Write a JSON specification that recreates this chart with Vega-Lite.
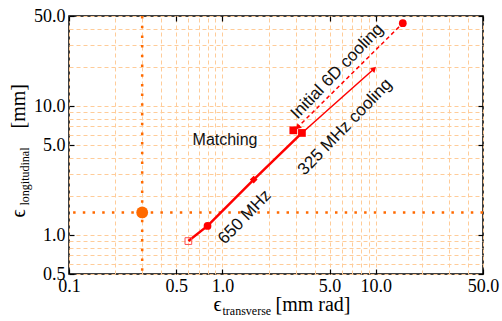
{
  "$schema": "https://vega.github.io/schema/vega-lite/v6.json",
  "autosize": "none",
  "width": 414,
  "height": 258,
  "padding": {"left": 69, "top": 16, "right": 19, "bottom": 47},
  "background": "white",
  "config": {
    "view": {"stroke": "black", "strokeWidth": 1.5},
    "axis": {"labelFont": "Liberation Serif", "titleFont": "Liberation Serif", "labelColor": "black", "titleColor": "black", "titleFontWeight": "normal", "labelFlush": false, "labelOverlap": false, "labelBound": false}
  },
  "datasets": {
    "ref": [{"x": 0.3, "y": 1.5}],
    "track": [{"x": 0.6, "y": 0.9}, {"x": 0.8, "y": 1.18}, {"x": 1.6, "y": 2.7}, {"x": 3.3, "y": 6.2}],
    "cool325": [{"x": 3.3, "y": 6.2}, {"x": 9.8, "y": 19.6}],
    "initial": [{"x": 15, "y": 44}, {"x": 3.05, "y": 6.75}],
    "start": [{"x": 0.6, "y": 0.9}],
    "markers": [{"x": 0.8, "y": 1.18, "kind": "circle"}, {"x": 1.6, "y": 2.7, "kind": "diamond"}, {"x": 2.9, "y": 6.5, "kind": "square"}, {"x": 3.3, "y": 6.2, "kind": "square"}, {"x": 15, "y": 44, "kind": "circle"}],
    "tip325": [{"x": 9.75, "y": 19.5}],
    "tipInit": [{"x": 3.1, "y": 6.85}],
    "flat": [{"x": 1.04, "y": 5.5, "text": "Matching"}],
    "rotated": [{"x": 1.4, "y": 1.38, "text": "650 MHz"}, {"x": 6.3, "y": 6.9, "text": "325 MHz cooling"}, {"x": 5.6, "y": 18.6, "text": "Initial 6D cooling"}]
  },
  "resolve": {"axis": {"x": "independent", "y": "independent"}},
  "layer": [
    {
      "data": {"name": "ref"},
      "mark": {"type": "rule", "color": "#ff6a00", "strokeWidth": 2.5, "strokeDash": [2.5, 7.2]},
      "encoding": {
        "x": {"field": "x", "type": "quantitative", "scale": {"type": "log", "domain": [0.1, 50], "nice": false},
          "axis": {"orient": "bottom", "values": [0.1,0.2,0.3,0.4,0.5,0.6,0.7,0.8,0.9,1,2,3,4,5,6,7,8,9,10,20,30,40,50], "grid": true, "gridColor": "#ffcc99", "gridDash": [4, 3], "gridWidth": 1, "labels": false, "ticks": false, "domain": false,
            "title": "transverse", "titleFontSize": 12, "titleX": 153, "titleY": 40, "titleAlign": "left", "titleBaseline": "alphabetic", "titleAngle": 0}}
      }
    },
    {
      "data": {"name": "ref"},
      "mark": {"type": "rule", "color": "#ff6a00", "strokeWidth": 2.5, "strokeDash": [2.5, 7.2]},
      "encoding": {
        "y": {"field": "y", "type": "quantitative", "scale": {"type": "log", "domain": [0.5, 50], "nice": false},
          "axis": {"orient": "left", "values": [0.5,0.6,0.7,0.8,0.9,1,2,3,4,5,6,7,8,9,10,20,30,40,50], "grid": true, "gridColor": "#ffcc99", "gridDash": [4, 3], "gridWidth": 1, "labels": false, "ticks": false, "domain": false,
            "title": "longitudinal", "titleFontSize": 12, "titleX": -41, "titleY": 189, "titleAlign": "left", "titleBaseline": "alphabetic", "titleAngle": -90}}
      }
    },
    {
      "data": {"name": "track"},
      "mark": {"type": "line", "color": "#ff0000", "strokeWidth": 2.5},
      "encoding": {
        "x": {"field": "x", "type": "quantitative", "scale": {"type": "log", "domain": [0.1, 50], "nice": false},
          "axis": {"orient": "bottom", "values": [0.1, 0.5, 1, 5, 10, 50], "format": ".1f", "labelFontSize": 18, "labelPadding": 8, "ticks": true, "tickSize": -5, "tickColor": "black", "tickWidth": 1.2, "grid": false, "domain": false,
            "title": "ϵ", "titleFontSize": 20, "titleX": 144, "titleY": 36, "titleAlign": "left", "titleBaseline": "alphabetic", "titleAngle": 0}},
        "y": {"field": "y", "type": "quantitative", "scale": {"type": "log", "domain": [0.5, 50], "nice": false},
          "axis": {"orient": "left", "values": [0.5, 1, 5, 10, 50], "format": ".1f", "labelFontSize": 18, "labelPadding": 9, "ticks": true, "tickSize": -5, "tickColor": "black", "tickWidth": 1.2, "grid": false, "domain": false,
            "title": "ϵ", "titleFontSize": 20, "titleX": -45, "titleY": 201, "titleAlign": "left", "titleBaseline": "alphabetic", "titleAngle": -90}}
      }
    },
    {
      "data": {"name": "ref"},
      "mark": {"type": "point", "shape": "circle", "filled": true, "color": "#ff6a00", "size": 140, "opacity": 1},
      "encoding": {
        "x": {"field": "x", "type": "quantitative", "scale": {"type": "log", "domain": [0.1, 50], "nice": false},
          "axis": {"orient": "bottom", "labels": false, "ticks": false, "domain": false, "grid": false,
            "title": "[mm rad]", "titleFontSize": 20, "titleX": 206, "titleY": 36, "titleAlign": "left", "titleBaseline": "alphabetic", "titleAngle": 0}},
        "y": {"field": "y", "type": "quantitative", "scale": {"type": "log", "domain": [0.5, 50], "nice": false},
          "axis": {"orient": "left", "labels": false, "ticks": false, "domain": false, "grid": false,
            "title": "[mm]", "titleFontSize": 20, "titleX": -45, "titleY": 112, "titleAlign": "left", "titleBaseline": "alphabetic", "titleAngle": -90}}
      }
    },
    {
      "data": {"name": "initial"},
      "mark": {"type": "line", "color": "#ff0000", "strokeWidth": 1.5, "strokeDash": [4, 3]},
      "encoding": {
        "x": {"field": "x", "type": "quantitative", "scale": {"type": "log", "domain": [0.1, 50], "nice": false},
          "axis": {"orient": "top", "values": [0.1, 0.5, 1, 5, 10, 50], "labels": false, "ticks": true, "tickSize": -5, "tickColor": "black", "tickWidth": 1.2, "domain": false, "grid": false, "title": null}},
        "y": {"field": "y", "type": "quantitative", "scale": {"type": "log", "domain": [0.5, 50], "nice": false},
          "axis": {"orient": "right", "values": [0.5, 1, 5, 10, 50], "labels": false, "ticks": true, "tickSize": -5, "tickColor": "black", "tickWidth": 1.2, "domain": false, "grid": false, "title": null}}
      }
    },
    {
      "data": {"name": "cool325"},
      "mark": {"type": "line", "color": "#ff0000", "strokeWidth": 1.5},
      "encoding": {
        "x": {"field": "x", "type": "quantitative", "axis": null},
        "y": {"field": "y", "type": "quantitative", "axis": null}
      }
    },
    {
      "data": {"name": "start"},
      "mark": {"type": "point", "shape": "square", "filled": false, "color": "#ff4d4d", "strokeWidth": 1, "size": 45, "opacity": 1},
      "encoding": {
        "x": {"field": "x", "type": "quantitative", "axis": null},
        "y": {"field": "y", "type": "quantitative", "axis": null}
      }
    },
    {
      "data": {"name": "markers"},
      "mark": {"type": "point", "filled": true, "color": "#ff0000", "size": 60, "opacity": 1},
      "encoding": {
        "x": {"field": "x", "type": "quantitative", "axis": null},
        "y": {"field": "y", "type": "quantitative", "axis": null},
        "shape": {"field": "kind", "type": "nominal", "scale": {"domain": ["circle", "diamond", "square"], "range": ["circle", "diamond", "square"]}, "legend": null}
      }
    },
    {
      "data": {"name": "tip325"},
      "mark": {"type": "point", "shape": "triangle-up", "filled": true, "color": "#ff0000", "size": 40, "angle": 45, "opacity": 1},
      "encoding": {
        "x": {"field": "x", "type": "quantitative", "axis": null},
        "y": {"field": "y", "type": "quantitative", "axis": null}
      }
    },
    {
      "data": {"name": "tipInit"},
      "mark": {"type": "point", "shape": "triangle-up", "filled": true, "color": "#ff0000", "size": 40, "angle": 225, "opacity": 1},
      "encoding": {
        "x": {"field": "x", "type": "quantitative", "axis": null},
        "y": {"field": "y", "type": "quantitative", "axis": null}
      }
    },
    {
      "data": {"name": "flat"},
      "mark": {"type": "text", "font": "Liberation Sans", "fontSize": 16, "color": "#111111", "align": "center", "baseline": "middle"},
      "encoding": {
        "x": {"field": "x", "type": "quantitative", "axis": null},
        "y": {"field": "y", "type": "quantitative", "axis": null},
        "text": {"field": "text"}
      }
    },
    {
      "data": {"name": "rotated"},
      "mark": {"type": "text", "font": "Liberation Sans", "fontSize": 17, "color": "#111111", "align": "center", "baseline": "middle", "angle": -46},
      "encoding": {
        "x": {"field": "x", "type": "quantitative", "axis": null},
        "y": {"field": "y", "type": "quantitative", "axis": null},
        "text": {"field": "text"}
      }
    }
  ]
}
